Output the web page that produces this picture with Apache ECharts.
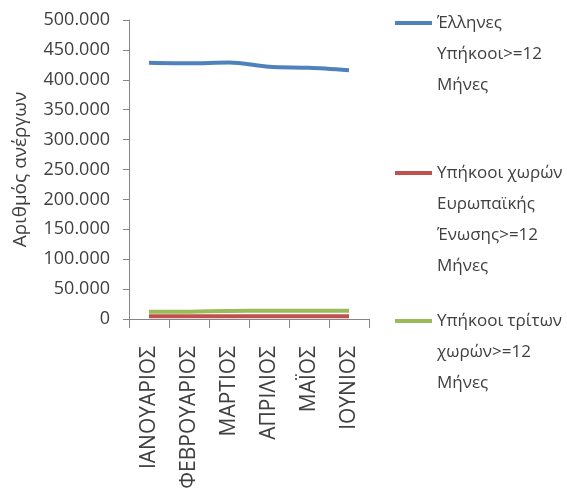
<!DOCTYPE html>
<html>
<head>
<meta charset="utf-8">
<script src="https://cdn.jsdelivr.net/npm/echarts@6/dist/echarts.min.js"></script>
<style>
html,body{margin:0;padding:0;background:#fff;}
#chart{width:567px;height:502px;}
</style>
</head>
<body>
<div id="chart"></div>
<script>
const categories = ['ΙΑΝΟΥΑΡΙΟΣ', 'ΦΕΒΡΟΥΑΡΙΟΣ', 'ΜΑΡΤΙΟΣ', 'ΑΠΡΙΛΙΟΣ', 'ΜΑΪΟΣ', 'ΙΟΥΝΙΟΣ'];
const greeks = [428600, 427600, 429000, 422000, 420000, 416000];
const euCitizens = [4500, 4500, 4800, 4600, 4500, 4600];
const thirdCountry = [12000, 12300, 13500, 13800, 13900, 14000];
const seriesNames = ['Έλληνες Υπήκοοι>=12 Μήνες', 'Υπήκοοι χωρών Ευρωπαϊκής Ένωσης>=12 Μήνες', 'Υπήκοοι τρίτων χωρών>=12 Μήνες'];
const legendLabels = ['Έλληνες\nΥπήκοοι>=12\nΜήνες', 'Υπήκοοι χωρών\nΕυρωπαϊκής\nΈνωσης>=12\nΜήνες', 'Υπήκοοι τρίτων\nχωρών>=12\nΜήνες'];
const yTicks = {min: 0, max: 500000, interval: 50000};
const yName = 'Αριθμός ανέργων';
const colors = ['#4F81BD', '#C0504D', '#9BBB59'];

const FONT = 'Open Sans';
const TXT = '#404040';
const LH = 31;
const iconY = [23, 173, 321];

function makeLegend(i) {
  const lines = legendLabels[i].split('\n');
  const n = lines.length;
  const blanks = [];
  for (let k = 0; k < n - 1; k++) blanks.push('\u00a0');
  const text = blanks.concat(lines).join('\n');
  return {
    data: [{name: seriesNames[i], icon: 'rect'}],
    left: 395,
    top: iconY[i] - (2 * n - 1) * LH / 2,
    padding: 0,
    itemWidth: 37,
    itemHeight: 4,
    formatter: function () { return text; },
    textStyle: {fontFamily: FONT, fontSize: 17, color: TXT, lineHeight: LH}
  };
}

const chart = echarts.init(document.getElementById('chart'), null, {renderer: 'canvas'});
chart.setOption({
  animation: false,
  backgroundColor: '#fff',
  grid: {left: 129, top: 20, width: 240, height: 299, containLabel: false, outerBoundsMode: 'none'},
  legend: [makeLegend(0), makeLegend(1), makeLegend(2)],
  xAxis: {
    type: 'category',
    data: categories,
    boundaryGap: true,
    axisLine: {lineStyle: {color: '#868686', width: 1}},
    axisTick: {show: true, length: 9, alignWithLabel: false, lineStyle: {color: '#868686'}},
    axisLabel: {rotate: 90, margin: 27, fontFamily: FONT, fontSize: 21, color: TXT, interval: 0}
  },
  yAxis: {
    type: 'value',
    min: yTicks.min, max: yTicks.max, interval: yTicks.interval,
    name: yName,
    nameLocation: 'middle',
    nameRotate: 90,
    nameGap: 99,
    nameTextStyle: {fontFamily: FONT, fontSize: 19, color: TXT, padding: [0, 0, 0, 0]},
    axisLine: {show: true, lineStyle: {color: '#868686', width: 1}},
    axisTick: {show: true, length: 6, lineStyle: {color: '#868686'}},
    splitLine: {show: false},
    axisLabel: {
      margin: 19, fontFamily: FONT, fontSize: 18, color: TXT,
      formatter: function (v) { return v === 0 ? '0' : (v / 1000) + '.000'; }
    }
  },
  series: [
    {name: seriesNames[0], type: 'line', data: greeks, symbol: 'none', smooth: 0.3, lineStyle: {width: 4, color: colors[0]}, itemStyle: {color: colors[0]}},
    {name: seriesNames[1], type: 'line', data: euCitizens, symbol: 'none', smooth: 0.3, lineStyle: {width: 4, color: colors[1]}, itemStyle: {color: colors[1]}},
    {name: seriesNames[2], type: 'line', data: thirdCountry, symbol: 'none', smooth: 0.3, lineStyle: {width: 4, color: colors[2]}, itemStyle: {color: colors[2]}}
  ]
});
</script>
</body>
</html>
